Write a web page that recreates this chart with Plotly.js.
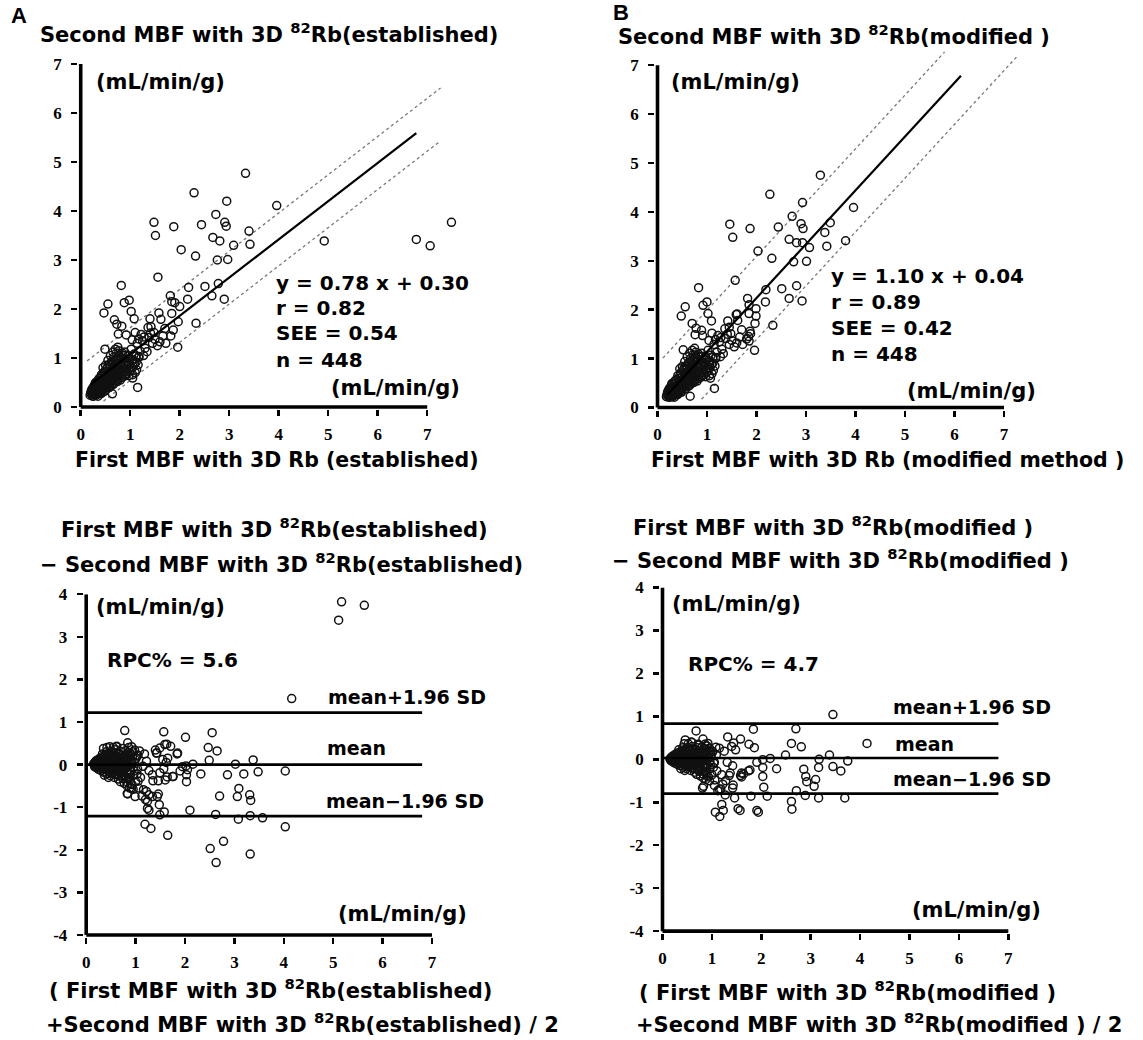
<!DOCTYPE html>
<html><head><meta charset="utf-8">
<script src="https://cdn.plot.ly/plotly-3.0.1.min.js"></script>
<style>html,body{margin:0;padding:0;background:#fff}#chart{width:1143px;height:1040px}</style>
</head><body><div id="chart"></div>
<script>
// ---------------- DATA ----------------
// Panel A: first MBF (established) vs second MBF (established)
const panelA_spread = [[3.33,4.77],[2.29,4.37],[2.95,4.20],[3.96,4.11],[1.48,3.77],[1.51,3.50],[1.88,3.68],[2.44,3.72],[2.73,3.93],[2.91,3.77],[2.94,3.69],[2.67,3.46],[2.81,3.39],[3.40,3.59],[3.42,3.32],[3.09,3.30],[2.03,3.21],[2.32,3.08],[2.76,3.00],[2.97,3.01],[4.92,3.39],[6.78,3.42],[7.06,3.29],[7.49,3.77],
[1.56,2.65],[0.82,2.48],[2.18,2.44],[2.51,2.46],[2.78,2.52],[2.65,2.27],[2.90,2.20],[2.16,2.20],[1.81,2.27],[1.84,2.15],[1.90,2.13],[2.00,2.05],[1.58,1.92],[1.84,1.91],[1.97,1.74],[2.33,1.71],[1.87,1.57],[1.82,1.45],[1.96,1.22],[1.34,1.13],[1.40,1.80],[1.42,1.64],[0.55,2.10],[0.47,1.92],[0.88,2.13],[0.98,2.18],[1.02,1.95],[1.08,1.80],[0.68,1.78],[0.73,1.69],[0.83,1.65],[0.92,1.47],[0.76,1.49],[1.04,1.37],[1.17,1.39],[1.28,1.43],[1.41,1.51],[1.10,1.52],[0.49,1.18],[1.15,0.40],[0.64,0.27],[1.05,0.59],[0.95,0.86],[1.06,0.96],[1.17,1.03],[1.13,0.76],
[1.25,1.35],[1.30,1.20],[1.38,1.42],[1.45,1.30],[1.50,1.38],[1.55,1.25],[1.60,1.33],[1.66,1.45],[1.72,1.30],[1.27,1.05],[1.22,1.48],[1.48,1.52],[1.36,1.62],[1.62,1.79],[1.70,1.60]];
const panelA_cluster = [[0.20,0.28],[0.22,0.35],[0.24,0.22],[0.25,0.30],[0.26,0.41],[0.27,0.26],[0.28,0.33],[0.29,0.47],[0.30,0.24],[0.31,0.38],[0.32,0.29],[0.33,0.52],[0.34,0.35],[0.35,0.44],[0.36,0.31],[0.37,0.58],[0.38,0.40],[0.39,0.27],[0.40,0.49],[0.41,0.36],[0.42,0.62],[0.43,0.45],[0.44,0.33],[0.45,0.55],[0.46,0.70],[0.47,0.41],[0.48,0.51],[0.49,0.38],[0.50,0.64],[0.51,0.47],[0.52,0.78],[0.53,0.56],[0.54,0.44],[0.55,0.69],[0.56,0.52],[0.57,0.86],[0.58,0.61],[0.59,0.48],[0.60,0.74],[0.61,0.57],[0.62,0.92],[0.63,0.66],[0.64,0.53],[0.65,0.81],[0.66,0.62],[0.67,1.02],[0.68,0.72],[0.69,0.58],[0.70,0.88],[0.71,0.67],[0.72,1.10],[0.73,0.77],[0.74,0.63],[0.75,0.95],[0.76,0.71],[0.77,1.15],[0.78,0.83],[0.79,0.68],[0.80,1.01],[0.81,0.76],[0.82,0.90],[0.83,0.60],[0.84,1.06],[0.85,0.81],[0.86,0.72],[0.87,0.97],[0.88,0.85],[0.89,1.12],[0.90,0.78],[0.92,0.93],[0.94,0.68],[0.96,1.05],[0.98,0.86],[1.00,0.74],[1.02,1.18],[1.04,0.95],[1.06,0.82],[1.08,1.08],[1.10,0.70],[1.12,0.92],[1.14,1.30],[1.16,0.86],[1.18,1.02],[1.20,1.14],
[0.19,0.24],[0.21,0.31],[0.23,0.27],[0.24,0.38],[0.26,0.22],[0.27,0.34],[0.29,0.29],[0.30,0.42],[0.32,0.25],[0.33,0.37],[0.35,0.28],[0.36,0.50],[0.38,0.33],[0.40,0.42],[0.41,0.30],[0.43,0.55],[0.45,0.39],[0.46,0.46],[0.48,0.32],[0.50,0.57],[0.52,0.42],[0.54,0.60],[0.56,0.39],[0.58,0.70],[0.60,0.50],[0.62,0.44],[0.64,0.76],[0.66,0.49],[0.68,0.85],[0.70,0.60],[0.72,0.54],[0.74,0.90],[0.76,0.58],[0.78,0.73],[0.80,0.55],[0.82,0.98],[0.84,0.66],[0.86,0.88],[0.88,0.63],[0.90,1.05],[0.93,0.72],[0.95,0.90],[0.97,0.64],[1.00,0.98],[1.03,0.80],[1.05,0.66],[1.09,0.88],[1.12,1.04],[0.60,1.05],[0.55,0.95],[0.50,0.85],[0.65,1.12],[0.45,0.80],[0.70,1.18],[0.75,1.22]];
const panelA_core = [[0.22,0.30],[0.25,0.26],[0.28,0.38],[0.31,0.33],[0.34,0.41],[0.37,0.36],[0.40,0.46],[0.43,0.40],[0.46,0.52],[0.49,0.45],[0.52,0.58],[0.55,0.50],[0.58,0.64],[0.61,0.55],[0.64,0.70],[0.67,0.60],[0.70,0.75],[0.73,0.68],[0.76,0.80],[0.79,0.72],[0.30,0.50],[0.36,0.55],[0.42,0.66],[0.48,0.72],[0.54,0.80],[0.60,0.86],[0.66,0.94],[0.72,0.98],[0.78,1.05],[0.84,1.10],[0.35,0.22],[0.42,0.28],[0.50,0.34],[0.58,0.40],[0.66,0.46],[0.74,0.52],[0.82,0.60],[0.90,0.66],[0.98,0.78],[1.06,0.90]];

// Panel B: first MBF (modified) vs second MBF (modified)
const panelB_spread = [[3.29,4.75],[2.27,4.36],[2.93,4.19],[3.96,4.09],[1.46,3.75],[1.52,3.48],[1.87,3.66],[2.44,3.69],[2.72,3.91],[2.90,3.76],[2.94,3.66],[2.66,3.44],[2.81,3.37],[3.38,3.58],[3.49,3.78],[3.42,3.30],[3.07,3.27],[2.93,3.37],[3.80,3.41],[2.03,3.20],[2.31,3.05],[2.75,2.98],[3.01,2.99],
[1.57,2.60],[0.83,2.45],[2.19,2.41],[2.51,2.43],[2.81,2.49],[2.66,2.23],[2.92,2.18],[2.18,2.16],[1.82,2.23],[2.33,1.68],[1.99,2.02],[1.99,1.87],[1.97,1.72],[1.85,1.92],[1.88,1.51],[1.96,1.17],[1.59,1.90],[1.42,1.77],[0.56,2.06],[0.48,1.87],[1.00,2.16],[0.92,2.09],[1.02,1.92],[1.09,1.77],[0.70,1.72],[0.78,1.62],[0.89,1.58],[1.15,0.39],[0.66,0.23],[1.33,1.10],[1.85,2.10],[1.61,1.91],[1.87,1.56],[1.84,1.45],[1.45,1.64],[0.91,1.47],[0.76,1.49],[1.04,1.37],[1.17,1.39],[1.28,1.43],[1.41,1.50],[1.10,1.52],[0.52,1.18],[1.07,0.60],[0.95,0.86],[1.06,0.95],[1.17,1.02],[1.13,0.76]];
const panelB_cluster = [[0.19,0.25],[0.21,0.33],[0.23,0.21],[0.24,0.29],[0.25,0.40],[0.26,0.24],[0.27,0.32],[0.28,0.45],[0.30,0.22],[0.31,0.36],[0.32,0.28],[0.33,0.50],[0.34,0.33],[0.35,0.42],[0.36,0.30],[0.37,0.56],[0.38,0.38],[0.39,0.26],[0.40,0.47],[0.41,0.35],[0.42,0.60],[0.43,0.43],[0.44,0.32],[0.45,0.53],[0.46,0.68],[0.47,0.40],[0.48,0.50],[0.49,0.37],[0.50,0.62],[0.51,0.46],[0.52,0.76],[0.53,0.55],[0.54,0.43],[0.55,0.68],[0.56,0.51],[0.57,0.84],[0.58,0.60],[0.59,0.47],[0.60,0.73],[0.61,0.56],[0.62,0.91],[0.63,0.65],[0.64,0.52],[0.65,0.80],[0.66,0.61],[0.67,1.00],[0.68,0.71],[0.69,0.57],[0.70,0.87],[0.71,0.66],[0.72,1.08],[0.73,0.76],[0.74,0.62],[0.75,0.94],[0.76,0.70],[0.77,1.13],[0.78,0.82],[0.79,0.67],[0.80,1.00],[0.81,0.75],[0.82,0.89],[0.83,0.59],[0.84,1.05],[0.85,0.80],[0.86,0.71],[0.87,0.96],[0.88,0.84],[0.89,1.11],[0.90,0.77],[0.92,0.92],[0.94,0.67],[0.96,1.04],[0.98,0.85],[1.00,0.73],[1.02,1.17],[1.04,0.94],[1.06,0.81],[1.08,1.07],[1.10,0.69],[1.12,0.91],[1.14,1.29],[1.16,0.85],[1.18,1.01],[1.20,1.13],
[0.18,0.22],[0.20,0.30],[0.22,0.26],[0.23,0.37],[0.25,0.21],[0.27,0.33],[0.29,0.28],[0.30,0.41],[0.32,0.24],[0.33,0.36],[0.35,0.27],[0.36,0.49],[0.38,0.32],[0.40,0.41],[0.41,0.29],[0.43,0.54],[0.45,0.38],[0.46,0.45],[0.48,0.31],[0.50,0.56],[0.52,0.41],[0.54,0.59],[0.56,0.38],[0.58,0.69],[0.60,0.49],[0.62,0.43],[0.64,0.75],[0.66,0.48],[0.68,0.84],[0.70,0.59],[0.72,0.53],[0.74,0.89],[0.76,0.57],[0.78,0.72],[0.80,0.54],[0.82,0.97],[0.84,0.65],[0.86,0.87],[0.88,0.62],[0.90,1.04],[0.93,0.71],[0.95,0.89],[0.97,0.63],[1.00,0.97],[1.03,0.79],[1.05,0.65],[1.09,0.87],[1.12,1.03],[0.60,1.04],[0.55,0.94],[0.50,0.84],[0.65,1.11],[0.45,0.79],[0.70,1.17],[0.75,1.21],
[1.25,1.34],[1.30,1.19],[1.38,1.41],[1.45,1.29],[1.50,1.37],[1.55,1.24],[1.60,1.32],[1.66,1.44],[1.72,1.29],[1.27,1.04],[1.22,1.47],[1.48,1.51],[1.36,1.61],[1.62,1.78],[1.70,1.59],[1.80,1.40],[1.85,1.36]];
const panelB_core = [[0.21,0.28],[0.24,0.25],[0.27,0.37],[0.30,0.32],[0.33,0.40],[0.36,0.35],[0.39,0.45],[0.42,0.39],[0.45,0.51],[0.48,0.44],[0.51,0.57],[0.54,0.49],[0.57,0.63],[0.60,0.54],[0.63,0.69],[0.66,0.59],[0.69,0.74],[0.72,0.67],[0.75,0.79],[0.78,0.71],[0.29,0.49],[0.35,0.54],[0.41,0.65],[0.47,0.71],[0.53,0.79],[0.59,0.85],[0.65,0.93],[0.71,0.97],[0.77,1.04],[0.83,1.09],[0.34,0.21],[0.41,0.27],[0.49,0.33],[0.57,0.39],[0.65,0.45],[0.73,0.51],[0.81,0.59],[0.89,0.65],[0.97,0.77],[1.05,0.89]];

// Panel C: Bland-Altman (established): [mean, difference]
const panelC_spread = [[5.17,3.82],[5.63,3.74],[5.11,3.39],[4.16,1.55],[0.78,0.80],[1.57,0.77],[2.01,0.64],[2.55,0.75],[2.47,0.40],[2.65,0.32],[1.63,0.48],[1.71,0.43],[1.85,0.27],[1.42,0.27],[2.49,0.10],[3.02,0.01],[3.38,0.11],[2.16,0.01],[2.02,-0.03],[2.32,-0.22],[2.03,-0.24],[2.03,-0.40],[2.86,-0.24],[3.19,-0.22],[3.48,-0.17],[4.03,-0.15],[3.09,-0.56],[3.06,-0.75],[2.70,-0.74],[3.31,-0.71],[3.33,-0.84],[2.10,-1.07],[2.62,-1.17],[3.08,-1.28],[3.32,-1.20],[3.57,-1.25],[4.03,-1.46],[1.49,-1.18],[1.58,-1.11],[1.24,-1.03],[1.27,-1.07],[1.19,-1.40],[1.31,-1.50],[1.65,-1.66],[2.51,-1.97],[2.78,-1.80],[2.63,-2.30],[3.32,-2.10],[1.48,-0.94],[1.46,-0.69],[1.27,-0.71],[1.16,-0.59],[1.20,-0.82],[0.83,-0.68],[1.13,-0.74],[1.24,-0.86],[1.60,-0.36],[1.64,-0.29],[1.75,-0.28],[1.35,-0.38],[1.49,-0.19],
[1.95,-0.05],[2.05,-0.12],[1.90,-0.15],[1.76,-0.28],[1.57,-0.10],[1.62,0.05],[1.65,0.15],[1.55,0.12],[1.40,0.34],[1.43,0.27],[1.49,0.39],[1.59,0.47],[1.84,0.25],[1.18,0.25],[1.22,0.08],[1.15,-0.04],[1.27,-0.14],[1.34,-0.24],[1.46,-0.38],[1.05,-0.39],[0.92,-0.55],[0.84,-0.69],[0.99,-0.75],[1.22,-0.63],[1.34,-0.75],[1.44,-0.75],[0.48,0.42],[0.61,0.42],[0.84,0.51],[0.92,0.42],[0.98,0.34],[1.05,0.22],[1.01,0.15],[0.84,0.22]];
const panelC_cluster = [[0.15,0.02],[0.17,-0.05],[0.18,0.06],[0.19,-0.01],[0.20,0.09],[0.21,-0.08],[0.22,0.03],[0.23,-0.03],[0.24,0.12],[0.25,-0.11],[0.26,0.05],[0.27,-0.06],[0.28,0.15],[0.29,0.00],[0.30,-0.14],[0.31,0.08],[0.32,-0.04],[0.33,0.19],[0.34,-0.09],[0.35,0.03],[0.36,-0.18],[0.37,0.11],[0.38,-0.02],[0.39,0.22],[0.40,-0.12],[0.41,0.06],[0.42,-0.22],[0.43,0.14],[0.44,-0.06],[0.45,0.27],[0.46,0.01],[0.47,-0.16],[0.48,0.18],[0.49,-0.26],[0.50,0.09],[0.51,-0.09],[0.52,0.31],[0.53,-0.02],[0.54,-0.20],[0.55,0.21],[0.56,0.05],[0.57,-0.30],[0.58,0.12],[0.59,-0.12],[0.60,0.35],[0.61,-0.04],[0.62,-0.24],[0.63,0.17],[0.64,0.02],[0.65,-0.34],[0.66,0.26],[0.67,-0.14],[0.68,0.08],[0.69,-0.40],[0.70,0.30],[0.71,-0.07],[0.72,-0.27],[0.73,0.14],[0.74,0.38],[0.75,-0.18],[0.76,0.04],[0.77,-0.44],[0.78,0.22],[0.79,-0.10],[0.80,0.33],[0.81,-0.30],[0.82,0.07],[0.83,-0.50],[0.84,0.16],[0.85,-0.21],[0.86,0.40],[0.87,-0.02],[0.88,-0.36],[0.89,0.26],[0.90,-0.13],[0.92,0.10],[0.93,-0.47],[0.95,0.30],[0.96,-0.25],[0.98,0.05],[1.00,-0.40],[1.02,0.20],[1.04,-0.10],[1.06,-0.55],[1.08,0.32],[1.10,-0.30],
[0.16,0.00],[0.18,-0.03],[0.20,0.02],[0.22,-0.06],[0.24,0.07],[0.26,-0.02],[0.28,0.04],[0.30,0.10],[0.32,-0.10],[0.34,0.06],[0.36,0.00],[0.38,0.13],[0.40,0.03],[0.42,-0.08],[0.44,0.10],[0.46,-0.12],[0.48,0.04],[0.50,-0.05],[0.52,0.14],[0.54,0.07],[0.56,-0.14],[0.58,-0.03],[0.60,0.20],[0.62,0.09],[0.64,-0.17],[0.66,-0.06],[0.68,0.24],[0.70,0.11],[0.72,-0.20],[0.74,-0.02],[0.76,0.18],[0.78,-0.28],[0.80,0.08],[0.82,-0.16],[0.84,0.28],[0.86,-0.32],[0.88,0.12],[0.90,-0.22],[0.94,0.20],[0.97,-0.15],[0.99,0.12],[1.03,-0.22],[0.27,0.10],[0.31,-0.07],[0.35,0.15],[0.39,-0.05],[0.43,0.02],[0.47,0.08],[0.51,0.00],[0.55,-0.08],[0.59,0.05],[0.63,-0.10],[0.67,0.00],[0.71,0.16],[0.75,0.06],[0.79,-0.06],[0.83,0.00],[0.87,0.19],[0.91,0.02],[0.96,-0.06],[0.33,0.25],[0.37,-0.25],[0.41,0.30],[0.45,-0.30],[0.55,0.40],[0.62,0.43],[0.42,0.40],[0.35,0.38]];
const panelC_core = [[0.18,0.04],[0.21,0.00],[0.24,-0.04],[0.27,0.02],[0.30,0.05],[0.33,-0.02],[0.36,0.07],[0.39,0.01],[0.42,-0.04],[0.45,0.05],[0.48,-0.08],[0.51,0.11],[0.54,-0.01],[0.57,0.08],[0.60,-0.07],[0.63,0.03],[0.66,0.12],[0.69,-0.10],[0.72,0.04],[0.75,-0.05],[0.40,0.20],[0.47,0.24],[0.53,0.26],[0.60,0.28],[0.50,-0.20],[0.58,-0.22],[0.66,-0.26],[0.74,-0.33],[0.82,-0.40],[0.90,-0.45],[0.95,-0.58],[0.88,-0.55]];

// Panel D: Bland-Altman (modified): [mean, difference]
const panelD_spread = [[3.45,1.04],[4.14,0.37],[2.70,0.71],[1.84,0.70],[0.68,0.66],[1.32,0.52],[2.61,0.37],[2.81,0.29],[1.58,0.47],[1.75,0.35],[1.86,0.27],[2.49,0.10],[3.38,0.10],[3.75,-0.04],[3.45,-0.17],[3.61,-0.27],[3.16,-0.19],[3.17,0.00],[2.86,-0.23],[2.90,-0.40],[2.92,-0.52],[3.10,-0.47],[3.07,-0.63],[3.16,-0.90],[2.89,-0.84],[2.71,-0.73],[3.69,-0.90],[2.61,-0.98],[2.62,-1.16],[2.31,-0.22],[2.18,0.02],[2.03,-0.01],[1.91,-0.07],[2.03,-0.19],[2.03,-0.40],[2.05,-0.65],[2.12,-0.86],[1.79,-0.86],[1.91,-1.19],[1.94,-1.23],[1.60,-0.32],[1.58,-0.38],[1.74,-0.27],[1.53,-1.15],[1.57,-1.19],[1.46,-0.90],[1.27,-0.83],[1.20,-1.05],[1.23,-1.19],[1.07,-1.23],[1.16,-1.33],[1.12,-0.73],[1.18,-0.69],[1.05,-0.61],[0.83,-0.63],[1.20,-0.36],[1.37,-0.32],[1.42,-0.15],[1.31,-0.07],[1.05,-0.07],[1.09,0.10],[0.98,0.18],[0.90,0.31],[0.72,0.35],[0.60,0.39],[0.46,0.45],
[1.40,0.30],[1.48,0.22],[1.44,0.38],[0.82,0.47],[0.92,0.37],[1.15,0.26],[1.25,0.19],[1.35,-0.38],[1.28,-0.50],[1.43,-0.60],[1.22,-0.58],[0.81,-0.67],[1.15,-0.70],[1.42,-0.67],[1.64,-0.34],[1.77,-0.25],[1.60,-0.41]];
const panelD_cluster = [[0.15,0.01],[0.17,-0.03],[0.18,0.05],[0.19,0.00],[0.20,0.07],[0.21,-0.06],[0.22,0.02],[0.23,-0.02],[0.24,0.10],[0.25,-0.09],[0.26,0.04],[0.27,-0.05],[0.28,0.13],[0.29,0.01],[0.30,-0.12],[0.31,0.07],[0.32,-0.03],[0.33,0.16],[0.34,-0.08],[0.35,0.03],[0.36,-0.15],[0.37,0.10],[0.38,-0.01],[0.39,0.19],[0.40,-0.10],[0.41,0.05],[0.42,-0.19],[0.43,0.12],[0.44,-0.05],[0.45,0.23],[0.46,0.01],[0.47,-0.14],[0.48,0.16],[0.49,-0.22],[0.50,0.08],[0.51,-0.08],[0.52,0.27],[0.53,-0.01],[0.54,-0.17],[0.55,0.19],[0.56,0.04],[0.57,-0.26],[0.58,0.11],[0.59,-0.10],[0.60,0.30],[0.61,-0.03],[0.62,-0.21],[0.63,0.15],[0.64,0.02],[0.65,-0.30],[0.66,0.23],[0.67,-0.12],[0.68,0.07],[0.69,-0.35],[0.70,0.27],[0.71,-0.06],[0.72,-0.24],[0.73,0.13],[0.74,0.33],[0.75,-0.16],[0.76,0.04],[0.77,-0.39],[0.78,0.20],[0.79,-0.09],[0.80,0.29],[0.81,-0.27],[0.82,0.06],[0.83,-0.44],[0.84,0.14],[0.85,-0.19],[0.86,0.35],[0.87,-0.02],[0.88,-0.32],[0.89,0.23],[0.90,-0.12],[0.92,0.09],[0.93,-0.41],[0.95,0.26],[0.96,-0.22],[0.98,0.05],[1.00,-0.36],[1.02,0.18],[1.04,-0.09],[1.06,-0.48],[1.08,0.28],[1.10,-0.27],
[0.16,0.00],[0.18,-0.02],[0.20,0.02],[0.22,-0.05],[0.24,0.06],[0.26,-0.02],[0.28,0.04],[0.30,0.09],[0.32,-0.09],[0.34,0.05],[0.36,0.00],[0.38,0.11],[0.40,0.03],[0.42,-0.07],[0.44,0.09],[0.46,-0.11],[0.48,0.03],[0.50,-0.04],[0.52,0.12],[0.54,0.06],[0.56,-0.12],[0.58,-0.03],[0.60,0.18],[0.62,0.08],[0.64,-0.15],[0.66,-0.05],[0.68,0.21],[0.70,0.10],[0.72,-0.18],[0.74,-0.02],[0.76,0.16],[0.78,-0.25],[0.80,0.07],[0.82,-0.14],[0.84,0.25],[0.86,-0.28],[0.88,0.11],[0.90,-0.19],[0.94,0.17],[0.97,-0.13],[0.99,0.11],[1.03,-0.19],[0.27,0.09],[0.31,-0.06],[0.35,0.13],[0.39,-0.04],[0.43,0.02],[0.47,0.07],[0.51,0.00],[0.55,-0.07],[0.59,0.04],[0.63,-0.09],[0.67,0.00],[0.71,0.14],[0.75,0.05],[0.79,-0.05],[0.83,0.00],[0.87,0.17],[0.91,0.02],[0.96,-0.05],[0.33,0.22],[0.37,-0.22],[0.41,0.27],[0.45,-0.26],[0.52,0.36],[0.58,0.40],[0.44,0.36]];
const panelD_core = [[0.18,0.03],[0.21,-0.01],[0.24,-0.03],[0.27,0.02],[0.30,0.04],[0.33,-0.02],[0.36,0.06],[0.39,0.01],[0.42,-0.03],[0.45,0.04],[0.48,-0.07],[0.51,0.09],[0.54,-0.01],[0.57,0.07],[0.60,-0.06],[0.63,0.03],[0.66,0.10],[0.69,-0.09],[0.72,0.03],[0.75,-0.04],[0.40,0.17],[0.47,0.21],[0.53,0.22],[0.60,0.24],[0.50,-0.17],[0.58,-0.19],[0.66,-0.22],[0.74,-0.28],[0.82,-0.34],[0.90,-0.38],[0.95,-0.50],[0.88,-0.47]];

// regression: [slope, intercept], solid line extent, band offset, dotted extents
const regA = [0.78, 0.30];
const regA_extent = [0.20, 6.78];
const regA_band = 0.54;
const regA_upperExtent = [0.13, 7.27];
const regA_lowerExtent = [0.46, 7.27];
const regB = [1.10, 0.04];
const regB_extent = [0.20, 6.13];
const regB_band = 0.85;
const regB_upperExtent = [0.11, 5.80];
const regB_lowerExtent = [0.89, 7.27];
// Bland-Altman lines: [mean+1.96SD, mean, mean-1.96SD]
const limitsC = [1.22, 0.00, -1.21];
const limitsD = [0.83, 0.03, -0.80];
const limitExtent = [0, 6.8];
// tick values / labels
const scatterTicks = [0,1,2,3,4,5,6,7];
const scatterTickLabels = ['0','1','2','3','4','5','6','7'];
const diffTicks = [-4,-3,-2,-1,0,1,2,3,4];
const diffTickLabels = ['-4','-3','-2','-1','0','1','2','3','4'];
const axisLenX = 7, axisLenY = 7, diffMin = -4, diffMax = 4;

// ---------------- LAYOUT GEOMETRY ----------------
const W = 1143, H = 1040;
const fx = p => p / W, fy = p => 1 - p / H;
const geo = {
  A: {x0: 80.7, xu: 49.5, y0: 407.0, yu: 49.0, xr: [-0.05, 7.6], yr: [-0.05, 7.3]},
  B: {x0: 657.5, xu: 49.5, y0: 407.5, yu: 48.9, xr: [-0.05, 7.6], yr: [-0.05, 7.4]},
  C: {x0: 86.2, xu: 49.4, y0: 764.6, yu: 42.6, xr: [-0.05, 7.05], yr: [-4.05, 4.0]},
  D: {x0: 662.5, xu: 49.4, y0: 759.3, yu: 42.96, xr: [-0.05, 7.05], yr: [-4.05, 4.0]}
};
const tickFont = {family: 'Liberation Serif', size: 17, color: '#000'};
const bold = arr => arr.map(s => '<b>' + s + '</b>');
function xAxis(g, anchor) {
  return {domain: [fx(g.x0 + g.xr[0]*g.xu), fx(g.x0 + g.xr[1]*g.xu)], range: g.xr, anchor,
    tickmode: 'array', tickvals: scatterTicks, ticktext: bold(scatterTickLabels), ticks: 'outside', ticklen: 6, tickwidth: 2.5, tickcolor: '#000',
    showline: false, showgrid: false, zeroline: false, tickfont: tickFont, ticklabelstandoff: 3, fixedrange: true};
}
function yAxis(g, anchor, tv, tt) {
  return {domain: [fy(g.y0 - g.yr[0]*g.yu), fy(g.y0 - g.yr[1]*g.yu)], range: g.yr, anchor,
    tickmode: 'array', tickvals: tv, ticktext: bold(tt), ticks: 'outside', ticklen: 6, tickwidth: 2.5, tickcolor: '#000',
    showline: false, showgrid: false, zeroline: false, tickfont: tickFont, ticklabelstandoff: 6, fixedrange: true};
}

const mk = {symbol: 'circle-open', size: 8, color: '#111', line: {width: 1.5, color: '#111'}};
function pts(arr, xa, ya) {
  return {type: 'scatter', mode: 'markers', x: arr.map(p => p[0]), y: arr.map(p => p[1]),
    xaxis: xa, yaxis: ya, marker: mk, hoverinfo: 'skip', showlegend: false};
}
function regLine(reg, ext, off, xa, ya, style) {
  return {type: 'scatter', mode: 'lines', x: ext, y: ext.map(v => reg[0]*v + reg[1] + off),
    xaxis: xa, yaxis: ya, line: style, hoverinfo: 'skip', showlegend: false};
}
function hLine(v, xa, ya) {
  return {type: 'scatter', mode: 'lines', x: limitExtent, y: [v, v], xaxis: xa, yaxis: ya,
    line: {color: '#000', width: 2.6}, hoverinfo: 'skip', showlegend: false};
}
const solid = {color: '#000', width: 2.2};
const dotted = {color: '#777', width: 1.3, dash: 'dot'};

const traces = [
  regLine(regA, regA_upperExtent, regA_band, 'x', 'y', dotted),
  regLine(regA, regA_lowerExtent, -regA_band, 'x', 'y', dotted),
  pts(panelA_core, 'x', 'y'), pts(panelA_cluster, 'x', 'y'), pts(panelA_spread, 'x', 'y'),
  regLine(regA, regA_extent, 0, 'x', 'y', solid),
  regLine(regB, regB_upperExtent, regB_band, 'x2', 'y2', dotted),
  regLine(regB, regB_lowerExtent, -regB_band, 'x2', 'y2', dotted),
  pts(panelB_core, 'x2', 'y2'), pts(panelB_cluster, 'x2', 'y2'), pts(panelB_spread, 'x2', 'y2'),
  regLine(regB, regB_extent, 0, 'x2', 'y2', solid),
  pts(panelC_core, 'x3', 'y3'), pts(panelC_cluster, 'x3', 'y3'), pts(panelC_spread, 'x3', 'y3'),
  hLine(limitsC[0], 'x3', 'y3'), hLine(limitsC[1], 'x3', 'y3'), hLine(limitsC[2], 'x3', 'y3'),
  pts(panelD_core, 'x4', 'y4'), pts(panelD_cluster, 'x4', 'y4'), pts(panelD_spread, 'x4', 'y4'),
  hLine(limitsD[0], 'x4', 'y4'), hLine(limitsD[1], 'x4', 'y4'), hLine(limitsD[2], 'x4', 'y4')
];

const axLine = {color: '#000', width: 3.6};
function axisShapes(xr, yr, yMin, yMax) {
  return [
    {type: 'line', xref: xr, yref: yr, x0: 0, x1: axisLenX, y0: yMin, y1: yMin, line: axLine, layer: 'above'},
    {type: 'line', xref: xr, yref: yr, x0: 0, x1: 0, y0: yMin, y1: yMax, line: axLine, layer: 'above'}
  ];
}
const shapes = [].concat(
  axisShapes('x', 'y', 0, axisLenY), axisShapes('x2', 'y2', 0, axisLenY),
  axisShapes('x3', 'y3', diffMin, diffMax), axisShapes('x4', 'y4', diffMin, diffMax));

const TF = 'DejaVu Sans';
function note(text, left, cy, size, opts) {
  return Object.assign({text, x: fx(left), y: fy(cy), xref: 'paper', yref: 'paper', xanchor: 'left', yanchor: 'middle',
    showarrow: false, font: {family: TF, size, color: '#000', weight: 700}}, opts || {});
}
const Rb = '3D <sup>82</sup>Rb';
const panelLetterFont = {family: 'Liberation Sans', size: 22, color: '#000', weight: 700};
const annotations = [
  note('A', 9, 16, 22, {font: panelLetterFont}),
  note('Second MBF with ' + Rb + '(established)', 38, 33, 21),
  note('(mL/min/g)', 94, 82, 21),
  note('y = 0.78 x + 0.30', 274, 283, 20),
  note('r = 0.82', 274, 308, 20),
  note('SEE = 0.54', 274, 333, 20),
  note('n = 448', 274, 360, 20),
  note('(mL/min/g)', 329, 388, 21),
  note('First MBF with 3D Rb (established)', 73, 460, 20.5),

  note('B', 611, 13, 22, {font: panelLetterFont}),
  note('Second MBF with ' + Rb + '(modified )', 616, 35, 21),
  note('(mL/min/g)', 669, 82, 21),
  note('y = 1.10 x + 0.04', 829, 276, 20),
  note('r = 0.89', 829, 302, 20),
  note('SEE = 0.42', 829, 328, 20),
  note('n = 448', 829, 354, 20),
  note('(mL/min/g)', 905, 391, 21),
  note('First MBF with 3D Rb (modified method )', 649, 460, 20.5),

  note('First MBF with ' + Rb + '(established)', 59, 528, 21),
  note('− Second MBF with ' + Rb + '(established)', 38, 563, 21),
  note('(mL/min/g)', 94, 607, 21),
  note('RPC% = 5.6', 105, 660, 20),
  note('mean+1.96 SD', 326, 697, 19),
  note('mean', 325, 748, 19),
  note('mean−1.96 SD', 324, 801, 19),
  note('(mL/min/g)', 336, 914, 21),
  note('( First MBF with ' + Rb + '(established)', 47, 989, 21),
  note('+Second MBF with ' + Rb + '(established) / 2', 44, 1023, 21),

  note('First MBF with ' + Rb + '(modified )', 631, 526, 21),
  note('− Second MBF with ' + Rb + '(modified )', 610, 559, 21),
  note('(mL/min/g)', 670, 604, 21),
  note('RPC% = 4.7', 686, 664, 20),
  note('mean+1.96 SD', 891, 707, 19),
  note('mean', 893, 744, 19),
  note('mean−1.96 SD', 891, 779, 19),
  note('(mL/min/g)', 910, 910, 21),
  note('( First MBF with ' + Rb + '(modified )', 637, 991, 21),
  note('+Second MBF with ' + Rb + '(modified ) / 2', 634, 1023, 21)
];

const layout = {
  width: W, height: H, margin: {l: 0, r: 0, t: 0, b: 0}, paper_bgcolor: '#fff', plot_bgcolor: 'rgba(0,0,0,0)',
  showlegend: false,
  xaxis: xAxis(geo.A, 'y'), yaxis: yAxis(geo.A, 'x', scatterTicks, scatterTickLabels),
  xaxis2: xAxis(geo.B, 'y2'), yaxis2: yAxis(geo.B, 'x2', scatterTicks, scatterTickLabels),
  xaxis3: xAxis(geo.C, 'y3'), yaxis3: yAxis(geo.C, 'x3', diffTicks, diffTickLabels),
  xaxis4: xAxis(geo.D, 'y4'), yaxis4: yAxis(geo.D, 'x4', diffTicks, diffTickLabels),
  shapes, annotations
};
Plotly.newPlot('chart', traces, layout, {staticPlot: true, displayModeBar: false});
</script>
</body></html>
